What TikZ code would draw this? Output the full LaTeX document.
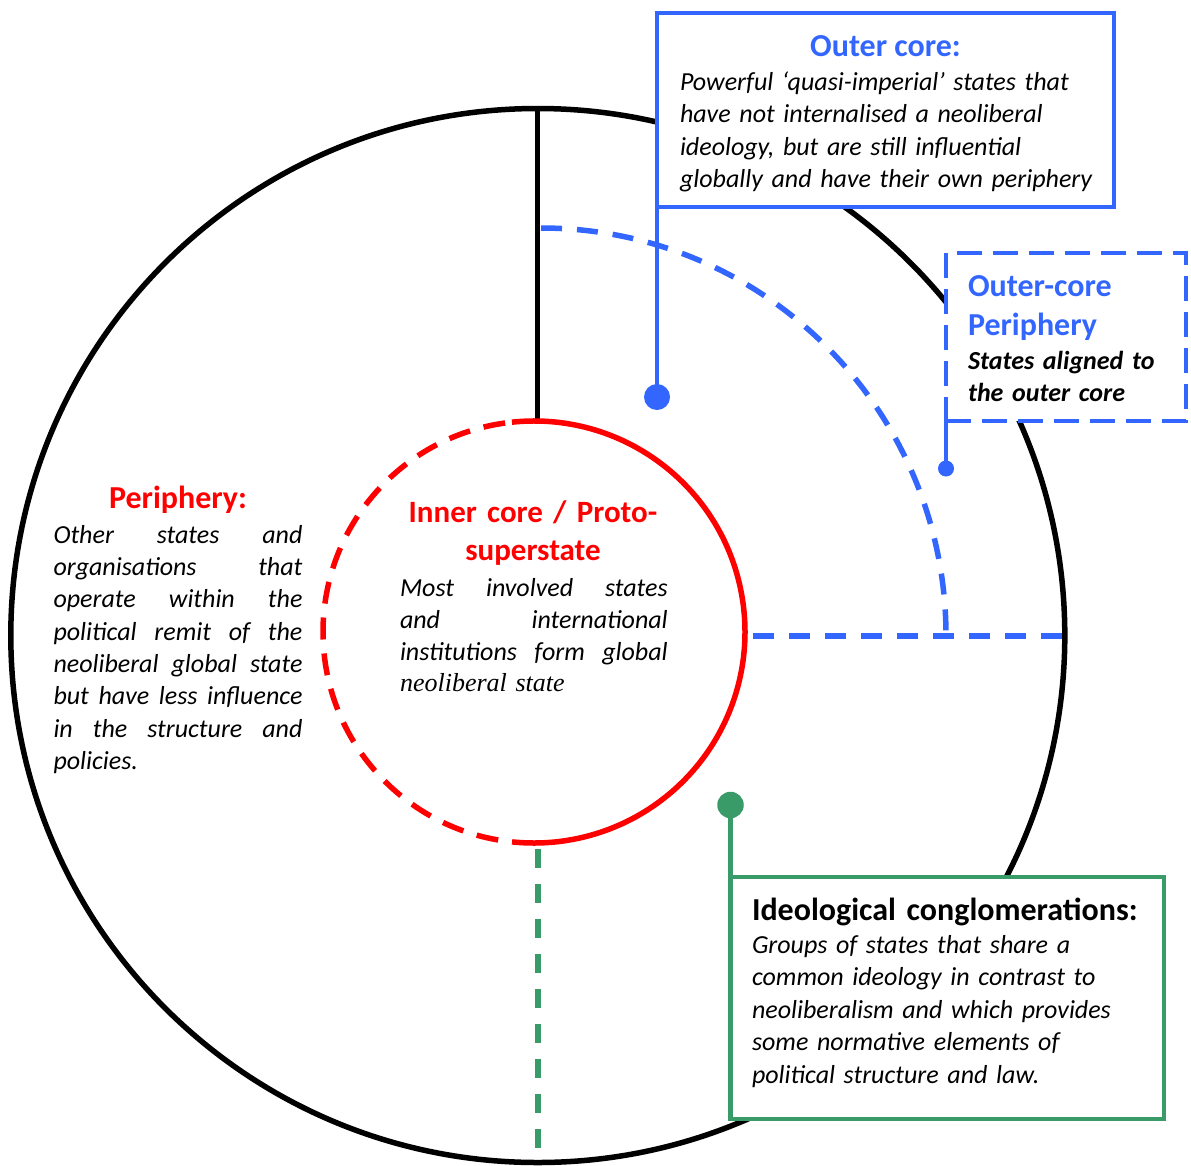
\documentclass[tikz,border=0pt]{standalone}
\usepackage{fontspec}
\setmainfont{Carlito}
\newfontfamily\timesfont{Liberation Serif}
\usetikzlibrary{calc}
\definecolor{coreblue}{RGB}{51,102,255}
\definecolor{corered}{RGB}{255,0,0}
\definecolor{congreen}{RGB}{56,155,104}
% one fully justified line of a given width
\newcommand\spreadline[2]{\leavevmode\hbox to #1{#2}}

\begin{document}
\begin{tikzpicture}[x=1pt, y=-1pt,
  ring/.style={draw=black, line width=5.5pt, circle, inner sep=0pt, outer sep=0pt},
  bodytxt/.style={inner sep=0pt, outer sep=0pt, anchor=base west, align=left,
    font=\fontsize{26}{32.5}\selectfont\itshape},
  headtxt/.style={inner sep=0pt, outer sep=0pt, anchor=base, align=center,
    font=\fontsize{32}{38}\selectfont\bfseries},
  infobox/.style={line width=4.5pt, fill=white, inner sep=0pt, outer sep=0pt, anchor=north west},
  knob/.style={circle, inner sep=0pt, outer sep=0pt, minimum size=#1},
  bluedash/.style={draw=coreblue, line width=5.5pt, dash pattern=on 21pt off 15pt},
]
\useasboundingbox (0,0) rectangle (1191,1165);

% the global state: outer ring and inner core
\node[ring, minimum size=1054pt] (outer) at (537.8,635.5) {};
\node[circle, inner sep=0pt, outer sep=0pt, minimum size=422pt] (inner) at (534,632) {};

% spokes between the rings
\draw[line width=5pt] (outer.north) -- (outer.north |- inner.north);
\draw[congreen, line width=6pt, dash pattern=on 19pt off 16pt]
  ([yshift=-6pt]outer.north |- inner.south) -- (outer.south);

% outer core quadrant
\coordinate (oc) at (541,636);
\draw[bluedash] ($(oc)+(0,-408)$) arc[start angle=-90, end angle=0, x radius=405, y radius=408];
\draw[bluedash] ([xshift=8pt]inner.east |- oc) -- (outer.east |- oc);

% inner core boundary: solid right half, dashed left half
\draw[corered, line width=5.5pt] (inner.center) ++(-96:211) arc[start angle=-96, end angle=90, radius=211];
\draw[corered, line width=5.5pt, dash pattern=on 22pt off 14pt]
  (inner.south) arc[start angle=90, end angle=264, radius=211];

% callout boxes
\node[infobox, draw=coreblue, minimum width=457pt, minimum height=194pt] (ocbox) at (657,13) {};
\node[infobox, draw=coreblue, dash pattern=on 25pt off 11pt, minimum width=240pt, minimum height=168pt] (ocpbox) at (946,253) {};
\node[infobox, draw=congreen, minimum width=433.5pt, minimum height=242pt] (icbox) at (730.5,877) {};

% callout pins
\node[knob=26pt, fill=coreblue] (ocdot) at (657,397) {};
\node[knob=16pt, fill=coreblue] (ocpdot) at (946,468.5) {};
\node[knob=26.5pt, fill=congreen] (icdot) at (730.5,805) {};
\draw[coreblue, line width=4.5pt] (ocbox.south west) -- (ocdot.center);
\draw[coreblue, line width=4pt] (ocpbox.south west) -- (ocpdot.center);
\draw[congreen, line width=4.5pt] (icbox.north west) -- (icdot.center);

% outer core text
\node[headtxt, text=coreblue] (ochead) at (885.5,56) {Outer core:};
\node[bodytxt, text width=430pt] (octxt) at (680,90)
  {Powerful ‘quasi-imperial’ states that\\have not internalised a neoliberal\\ideology, but are still influential\\globally and have their own periphery};

% outer-core periphery text
\node[headtxt, text=coreblue, anchor=base west, align=left, text width=215pt,
  font=\fontsize{32}{39}\selectfont\bfseries] (ocphead) at (968,296) {Outer-core\\Periphery};
\node[bodytxt, text width=215pt, font=\fontsize{26}{32.5}\selectfont\bfseries\itshape]
  (ocptxt) at (968,369) {States aligned to\\the outer core};

% periphery text
\node[headtxt, text=corered] (phead) at (178,508.3) {Periphery:};
\node[bodytxt, text width=260pt, font=\fontsize{26}{32.3}\selectfont\itshape] (ptxt) at (53.5,543.3)
  {\spreadline{249pt}{Other\hfill states\hfill and}\\
   \spreadline{249pt}{organisations\hfill that}\\
   \spreadline{249pt}{operate\hfill within\hfill the}\\
   \spreadline{249pt}{political\hfill remit\hfill of\hfill the}\\
   \spreadline{249pt}{neoliberal\hfill global\hfill state}\\
   \spreadline{249pt}{but\hfill have\hfill less\hfill influence}\\
   \spreadline{249pt}{in\hfill the\hfill structure\hfill and}\\
   policies.};

% inner core text
\node[headtxt, text=corered, text width=320pt, font=\fontsize{31}{37.3}\selectfont\bfseries]
  (ihead) at (533,522.7) {Inner core / Proto-\\superstate};
\node[bodytxt, text width=280pt, font=\fontsize{26}{31.7}\selectfont\itshape] (itxt) at (400,596.7)
  {\spreadline{267.7pt}{Most\hfill involved\hfill states}\\
   \spreadline{267.7pt}{and\hfill international}\\
   \spreadline{267.7pt}{institutions\hfill form\hfill global}\\
   {\timesfont\itshape neoliberal state}};

% ideological conglomerations text
\node[headtxt, anchor=base west, align=left, text width=420pt] (ichead) at (752,920)
  {Ideological conglomerations:};
\node[bodytxt, text width=400pt] (ictxt) at (752,953.3)
  {Groups of states that share a\\common ideology in contrast to\\neoliberalism and which provides\\some normative elements of\\political structure and law.};
\end{tikzpicture}
\end{document}
